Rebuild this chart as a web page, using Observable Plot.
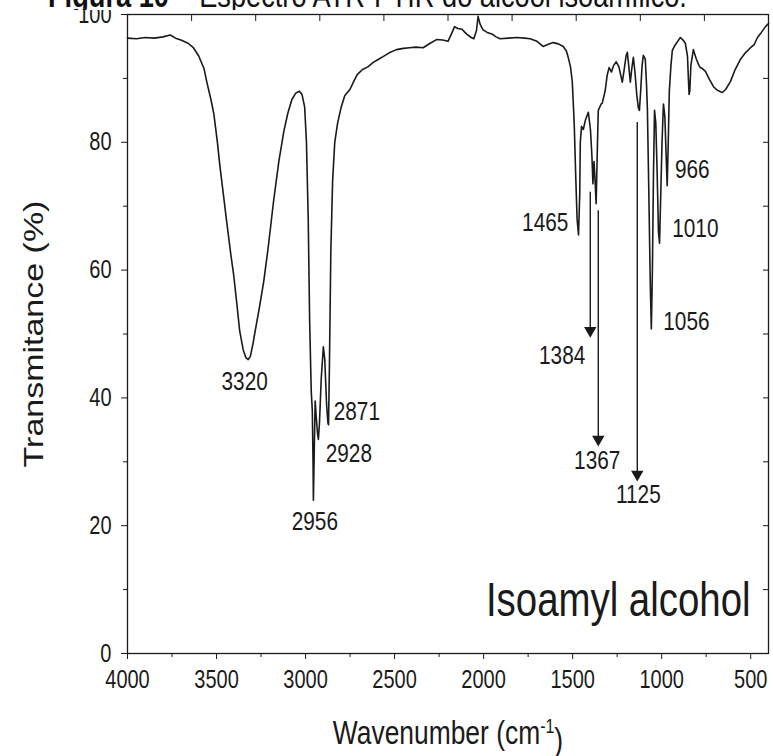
<!DOCTYPE html>
<html>
<head>
<meta charset="utf-8">
<script src="https://cdn.jsdelivr.net/npm/d3@7"></script>
<script src="https://cdn.jsdelivr.net/npm/@observablehq/plot@0.6"></script>
<style>
  html, body { margin: 0; padding: 0; background: #fff; }
  #wrap { position: relative; width: 773px; height: 756px; overflow: hidden; font-family: "Liberation Sans", Arial, sans-serif; }
  #title { position: absolute; left: 48px; top: -22px; height: 32px; overflow: hidden; background: #fff; font-size: 34px; line-height: 1; color: #111; white-space: nowrap; z-index: 2; transform: scaleX(0.8); transform-origin: 0 0; padding-right: 6px; }
  #chart svg { display: block; }
</style>
</head>
<body>
<div id="wrap">
  <div id="title"><b>Figura 10</b> – Espectro ATR-FTIR do álcool isoamílico.</div>
  <div id="chart"></div>
</div>
<script>
// Spectrum (wavenumber in cm-1, transmittance in %)
const wavenumber = [4000,3950,3900,3850,3800,3760,3730,3700,3660,3630,3600,3570,3555,3530,3515,3495,3482,3460,3443,3420,3404,3385,3370,3350,3335,3322,3310,3295,3286,3260,3235,3210,3180,3150,3122,3100,3077,3055,3035,3020,3005,2995,2985,2977,2968,2962,2958,2956,2951,2946,2940,2933,2928,2922,2912,2900,2892,2882,2874,2871,2866,2858,2848,2836,2820,2800,2780,2750,2730,2710,2680,2650,2620,2590,2565,2530,2490,2450,2415,2380,2340,2300,2262,2230,2200,2180,2163,2145,2121,2105,2093,2070,2055,2040,2031,2020,2003,1980,1950,1930,1908,1860,1812,1770,1739,1700,1666,1640,1610,1580,1553,1535,1525,1512,1502,1491,1483,1475,1467,1460,1457,1450,1440,1428,1412,1400,1392,1386,1380,1374,1368,1362,1356,1340,1334,1317,1306,1295,1282,1270,1255,1240,1230,1221,1210,1200,1193,1185,1176,1168,1159,1150,1140,1131,1125,1118,1110,1103,1092,1085,1080,1072,1064,1058,1052,1046,1040,1033,1026,1018,1012,1005,998,990,982,975,969,963,957,948,940,925,910,895,880,867,855,850,846,842,836,822,805,790,783,770,754,735,709,690,670,659,640,614,590,557,530,501,480,462,440,417,400];
const transmittance = [96.3,96.2,96.4,96.3,96.5,96.8,96.3,96.0,95.5,94.8,93.5,91.5,89.5,86.5,84.4,80,76.5,71.5,67.6,62.5,59.3,54.5,50.5,47.5,46.3,46.0,46.5,48.5,50,54,58.2,63.5,70.7,77,81.7,84.5,86.7,87.7,88.0,87.5,85.5,80,68,52,41,38,30,24,32,39.5,37,34.5,33.5,36,43,48,46,39,36,35.8,45,63,74,80,83,85.5,87.3,88.3,89.5,90.6,91.4,91.8,92.5,93.0,93.4,94.0,94.5,94.7,94.8,94.9,94.8,95.5,96.1,96.0,95.8,97.0,98.1,97.8,97.7,97.2,96.9,96.4,96.2,97.5,99.7,98.5,97.6,97.2,96.9,96.5,96.2,96.3,96.4,96.3,96.2,95.8,95.0,95.3,95.6,95.4,95.0,94.3,93.3,91.8,89.5,82.8,75,68,65.5,72,80,82.5,82,83.5,84.7,82,78,73.5,77,74,70.4,78,85,86,86.1,88.1,90.5,91.7,91.0,92.0,92.6,91.8,90.5,89.4,91.5,93.5,94.1,92,89.4,91.5,93.3,91,87.5,85.4,85,88,92,93.6,93.0,89,85,72,58,50.8,60,75,85,83,76,66,64.2,72,80,86,84,78,73.2,80,88,92,94.4,95.2,95.8,96.4,96.0,95.5,93.5,90,87.5,88,92,94.5,93,92,91.7,91.5,91.1,90.0,88.7,88.2,87.9,87.8,88.3,89.5,91.2,93.0,94.0,94.8,95.3,96.4,97.2,98.1,98.6];

// Peak annotations
const peakText = ["3320","2956","2928","2871","1465","1384","1367","1125","1056","1010","966"];
const peakLabelX = [3342,2948,2757,2712,1654,1559,1362,1131,861,811,828];
const peakLabelY = [42.6,20.7,31.3,37.9,67.4,46.6,30.2,24.9,52.0,66.5,75.7];

// Arrows (wavenumber, start and end transmittance)
const arrowX = [1401,1356,1137];
const arrowFrom = [72.2,69.3,83.1];
const arrowTo = [49.9,32.9,27.4];

// Axis ticks
const xMajor = [4000,3500,3000,2500,2000,1500,1000,500];
const xMinor = [3750,3250,2750,2250,1750,1250,750];
const xTop = [4000,3640,3280,2920,2560,2200,1840,1480,1120,760,400];
const yMajor = [0,20,40,60,80,100];
const yMinor = [10,30,50,70,90];
const yRight = [10,20,30,40,50,60,70,80,90];

const spectrum = wavenumber.map((w, i) => ({w, t: transmittance[i]}));
const peaks = peakText.map((s, i) => ({s, x: peakLabelX[i], y: peakLabelY[i]}));
const arrows = arrowX.map((x, i) => ({x, y1: arrowFrom[i], y2: arrowTo[i]}));

const font = "Liberation Sans, Arial, sans-serif";
const ink = "#1a1a1a";

const plot = Plot.plot({
  width: 773,
  height: 756,
  marginLeft: 127,
  marginRight: 5,
  marginTop: 14,
  marginBottom: 103,
  style: {fontFamily: font, color: ink, background: "#fff", overflow: "visible"},
  x: {domain: [4000, 400]},
  y: {domain: [0, 100]},
  marks: [
    Plot.axisX({ticks: xMajor, tickSize: 6, tickPadding: 11, fontSize: 25, label: null, tickFormat: d => String(d)}),
    Plot.axisX({ticks: xMinor, tickSize: 4, text: null, label: null}),
    Plot.axisX({anchor: "top", ticks: xTop, tickSize: -6, text: null, label: null}),
    Plot.axisY({ticks: yMajor, tickSize: 6, tickPadding: 10, fontSize: 25, label: null}),
    Plot.axisY({ticks: yMinor, tickSize: 4, text: null, label: null}),
    Plot.axisY({anchor: "right", ticks: yRight, tickSize: -6, text: null, label: null}),
    Plot.frame({stroke: ink, strokeWidth: 1.3}),
    Plot.line(spectrum, {x: "w", y: "t", stroke: ink, strokeWidth: 1.6}),
    Plot.ruleX(arrows, {x: "x", y1: "y1", y2: "y2", stroke: ink, strokeWidth: 1.4}),
    Plot.dot(arrows, {x: "x", y: "y2", symbol: "triangle", rotate: 180, r: 4.6, fill: ink, stroke: null, dy: -4}),
    Plot.text(peaks, {x: "x", y: "y", text: "s", fontSize: 26, fill: ink}),
    Plot.text(["Isoamyl alcohol"], {x: 501, y: 8.3, textAnchor: "end", fontSize: 48, fill: ink}),
    Plot.text(["Transmitance (%)"], {frameAnchor: "left", textAnchor: "middle", rotate: -90, dx: -93, fontSize: 34, fill: ink}),
    Plot.text(["Wavenumber (cm"], {frameAnchor: "bottom", dy: 90, fontSize: 33, fill: ink, className: "xlabel"})
  ]
});
document.getElementById("chart").appendChild(plot);

// superscript for the x-axis title
d3.select(plot).selectAll("g.xlabel text").each(function() {
  const t = d3.select(this);
  t.append("tspan").attr("dy", "-0.55em").attr("font-size", 20).text("-1");
  t.append("tspan").attr("dy", "0.55em").text(")");
});

// the source figure was squeezed horizontally: narrow every glyph the same way
d3.select(plot).selectAll("text").each(function() {
  const el = d3.select(this);
  let tr = el.attr("transform") || "";
  let tx = 0, ty = 0;
  const x = el.attr("x"), y = el.attr("y");
  if (x != null) {
    if (/em$/.test(x)) el.attr("dx", x); else tx = +x || 0;
    el.attr("x", null);
  }
  if (y != null) {
    if (/em$/.test(y)) el.attr("dy", y); else ty = +y || 0;
    el.attr("y", null);
  }
  if (tx || ty) tr = `translate(${tx},${ty}) ` + tr;
  const rotated = /rotate\(\s*-?90/.test(tr);
  el.attr("transform", tr + (rotated ? " scale(1,0.8)" : " scale(0.8,1)"));
});
</script>
</body>
</html>
